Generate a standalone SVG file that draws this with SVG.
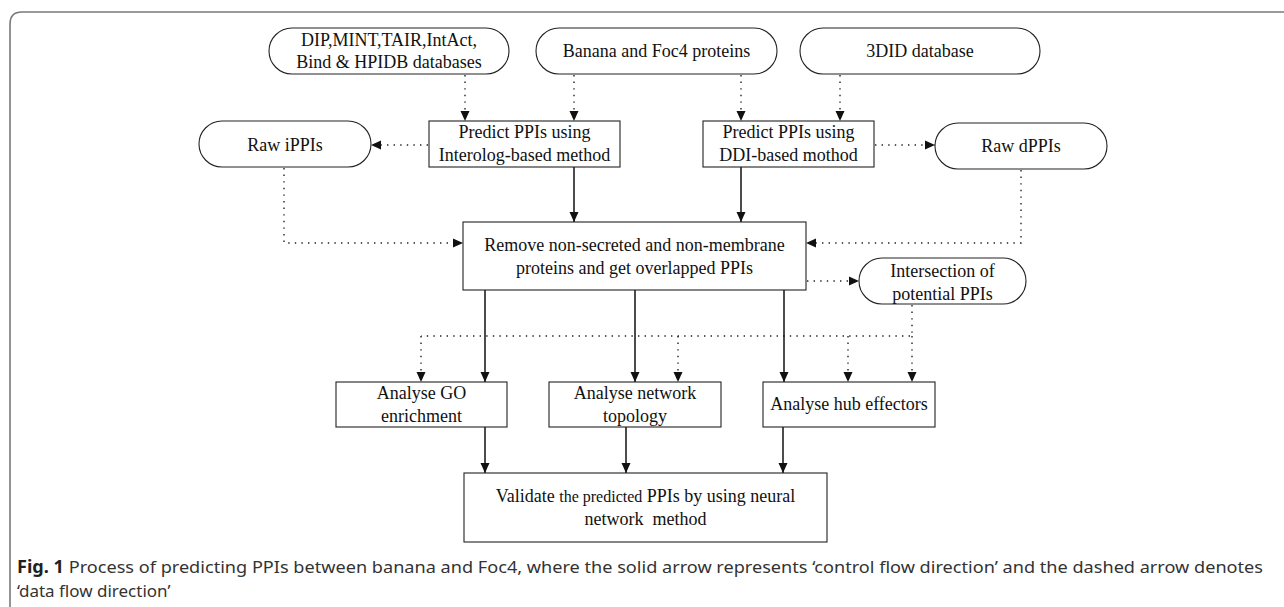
<svg xmlns="http://www.w3.org/2000/svg" width="1284" height="607" viewBox="0 0 1284 607">
<style>
.bg{fill:#ffffff}
.frame{fill:none;stroke:#7a7a7a;stroke-width:1.6}
.box{fill:#ffffff;stroke:#222;stroke-width:1.1}
.t{font-family:"Liberation Serif","Times New Roman",serif;font-size:18px;fill:#111;text-anchor:middle;white-space:pre}
.solid{fill:none;stroke:#111;stroke-width:1.5;marker-end:url(#ah)}
.dot{fill:none;stroke:#222;stroke-width:1.4;stroke-dasharray:1.4 5.2}
.dota{fill:none;stroke:#222;stroke-width:1.4;stroke-dasharray:1.4 5.2;marker-end:url(#ah)}
.cap{font-family:"Noto Sans","Open Sans",sans-serif;font-size:17px;fill:#333}
</style>
<defs>
<marker id="ah" markerUnits="userSpaceOnUse" markerWidth="11" markerHeight="10" refX="10" refY="5" orient="auto">
<path d="M0,0.5 L10,5 L0,9.5 z" fill="#111"/>
</marker>
</defs>
<rect class="bg" x="0" y="0" width="1284" height="607"/>
<path class="frame" d="M10,607 V24 Q10,12 22,12 H1284"/>

<g id="connectors">
<line class="dota" x1="465" y1="75" x2="465" y2="121"/>
<line class="dota" x1="574" y1="75" x2="574" y2="121"/>
<line class="dota" x1="741" y1="75" x2="741" y2="121"/>
<line class="dota" x1="840" y1="75" x2="840" y2="121"/>
<line class="dota" x1="428" y1="145" x2="371" y2="145"/>
<line class="dota" x1="875" y1="145" x2="935" y2="145"/>
<line class="solid" x1="574" y1="167" x2="574" y2="222"/>
<line class="solid" x1="741" y1="167" x2="741" y2="222"/>
<polyline class="dota" points="284,168 284,243 463,243"/>
<polyline class="dota" points="1021,170 1021,243 806,243"/>
<line class="dota" x1="807" y1="281" x2="859" y2="281"/>
<polyline class="dot" points="912,305 912,336 421,336"/>
<line class="dota" x1="421" y1="336" x2="421" y2="382"/>
<line class="dota" x1="678" y1="336" x2="678" y2="382"/>
<line class="dota" x1="848" y1="336" x2="848" y2="382"/>
<line class="dota" x1="912" y1="336" x2="912" y2="382"/>
<line class="solid" x1="485" y1="290" x2="485" y2="382"/>
<line class="solid" x1="635" y1="290" x2="635" y2="382"/>
<line class="solid" x1="784" y1="290" x2="784" y2="382"/>
<line class="solid" x1="485" y1="427" x2="485" y2="473"/>
<line class="solid" x1="626" y1="427" x2="626" y2="473"/>
<line class="solid" x1="783" y1="427" x2="783" y2="473"/>
</g>

<g id="n-db">
<rect class="box" x="269" y="28" width="240" height="46" rx="23" ry="23"/>
<text class="t" x="389" y="46">DIP,MINT,TAIR,IntAct,</text>
<text class="t" x="389" y="68">Bind &amp; HPIDB databases</text>
</g>
<g id="n-proteins">
<rect class="box" x="536" y="28" width="241" height="46" rx="23" ry="23"/>
<text class="t" x="656.5" y="57">Banana and Foc4 proteins</text>
</g>
<g id="n-3did">
<rect class="box" x="800" y="28" width="240" height="46" rx="23" ry="23"/>
<text class="t" x="920" y="57">3DID database</text>
</g>
<g id="n-interolog">
<rect class="box" x="429" y="121" width="191" height="46"/>
<text class="t" x="524.5" y="138">Predict PPIs using</text>
<text class="t" x="524.5" y="161">Interolog-based method</text>
</g>
<g id="n-ddi">
<rect class="box" x="703" y="121" width="171" height="46"/>
<text class="t" x="788.5" y="138">Predict PPIs using</text>
<text class="t" x="788.5" y="161">DDI-based mothod</text>
</g>
<g id="n-rawi">
<rect class="box" x="199" y="121" width="172" height="46" rx="23" ry="23"/>
<text class="t" x="285" y="151">Raw iPPIs</text>
</g>
<g id="n-rawd">
<rect class="box" x="935" y="123" width="172" height="46" rx="23" ry="23"/>
<text class="t" x="1021" y="152">Raw dPPIs</text>
</g>
<g id="n-remove">
<rect class="box" x="463" y="222" width="343" height="68"/>
<text class="t" x="634.5" y="251">Remove non-secreted and non-membrane</text>
<text class="t" x="634.5" y="274">proteins and get overlapped PPIs</text>
</g>
<g id="n-intersection">
<rect class="box" x="859" y="258" width="167" height="46" rx="23" ry="23"/>
<text class="t" x="942.5" y="277">Intersection of</text>
<text class="t" x="942.5" y="300">potential PPIs</text>
</g>
<g id="n-go">
<rect class="box" x="336" y="382" width="171" height="45"/>
<text class="t" x="421.5" y="399">Analyse GO</text>
<text class="t" x="421.5" y="422">enrichment</text>
</g>
<g id="n-topology">
<rect class="box" x="549" y="382" width="172" height="45"/>
<text class="t" x="635" y="399">Analyse network</text>
<text class="t" x="635" y="422">topology</text>
</g>
<g id="n-hub">
<rect class="box" x="763" y="382" width="172" height="45"/>
<text class="t" x="849" y="410">Analyse hub effectors</text>
</g>
<g id="n-validate">
<rect class="box" x="464" y="473" width="363" height="69"/>
<text class="t" x="645.5" y="502">Validate <tspan font-size="16px">the predicted</tspan> PPIs by using neural</text>
<text class="t" x="645.5" y="525">network  method</text>
</g>

<g id="caption">
<text class="cap" x="17" y="573" textLength="1246" lengthAdjust="spacingAndGlyphs"><tspan font-weight="bold" fill="#231f20">Fig. 1</tspan>  Process of predicting PPIs between banana and Foc4, where the solid arrow represents ‘control flow direction’ and the dashed arrow denotes</text>
<text class="cap" x="17" y="597">‘data flow direction’</text>
</g>
</svg>
